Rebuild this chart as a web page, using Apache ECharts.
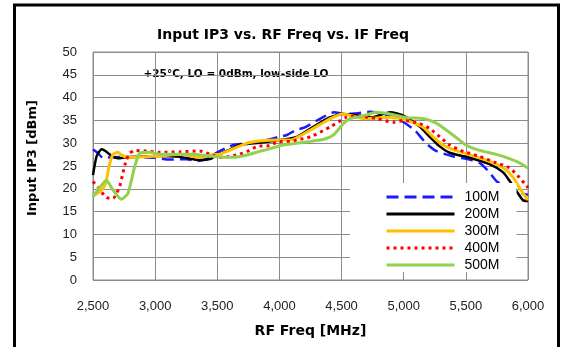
<!DOCTYPE html>
<html>
<head>
<meta charset="utf-8">
<script src="https://cdn.jsdelivr.net/npm/echarts@6/dist/echarts.min.js"></script>
<style>
  html, body { margin: 0; padding: 0; background: #fff; }
  #chart { width: 566px; height: 347px; }
</style>
</head>
<body>
<div id="chart"></div>
<script>
// Input IP3 [dBm] vs RF frequency [MHz], one curve per IF frequency
const freq100 = [2500, 2540, 2580, 2650, 2800, 3000, 3120, 3250, 3340, 3420, 3500, 3630, 3760, 3880, 4000, 4060, 4140, 4200, 4330, 4440, 4520, 4600, 4730, 4890, 5000, 5090, 5180, 5260, 5400, 5530, 5610, 5690, 5750, 5850, 5950, 6000];
const ip3_100  = [28.6, 27.8, 26.8, 26.9, 27.0, 26.8, 26.4, 26.5, 26.1, 26.6, 28.0, 29.6, 30.1, 30.6, 31.4, 31.8, 33.0, 33.4, 35.4, 36.8, 36.4, 36.5, 36.9, 36.0, 34.6, 32.8, 30.0, 28.3, 27.1, 26.4, 25.7, 23.6, 21.6, 20.0, 19.0, 18.7];

const freq200 = [2500, 2530, 2570, 2600, 2650, 2700, 2770, 3040, 3200, 3360, 3450, 3500, 3600, 3680, 3840, 4000, 4140, 4250, 4400, 4510, 4600, 4750, 4890, 5000, 5130, 5210, 5290, 5370, 5530, 5690, 5800, 5850, 5905, 5960, 6000];
const ip3_200  = [23.0, 27.2, 28.7, 28.3, 27.2, 26.7, 26.9, 27.2, 27.0, 26.3, 26.6, 27.5, 28.6, 29.6, 30.1, 30.7, 31.4, 33.2, 35.6, 36.4, 36.2, 35.7, 36.8, 36.0, 33.6, 31.4, 29.3, 27.9, 26.8, 25.4, 23.6, 21.8, 19.6, 17.5, 17.3];

const freq300 = [2500, 2560, 2600, 2630, 2660, 2700, 2730, 2770, 3040, 3200, 3360, 3470, 3520, 3740, 3840, 4000, 4085, 4250, 4410, 4510, 4680, 4890, 5000, 5150, 5235, 5316, 5396, 5530, 5690, 5800, 5880, 5945, 6000];
const ip3_300  = [18.5, 19.5, 21.0, 25.0, 27.5, 28.0, 27.4, 26.9, 27.2, 27.6, 26.9, 27.5, 27.6, 30.0, 30.5, 30.7, 30.7, 32.9, 35.4, 36.4, 35.4, 35.7, 35.2, 33.6, 31.4, 29.6, 28.6, 27.5, 26.0, 24.6, 22.5, 19.6, 17.5];

const freq400 = [2500, 2550, 2607, 2661, 2714, 2741, 2768, 2795, 2835, 2930, 3040, 3200, 3360, 3440, 3500, 3550, 3680, 3740, 3840, 3900, 4005, 4085, 4140, 4250, 4410, 4540, 4620, 4780, 4920, 5000, 5130, 5210, 5290, 5370, 5480, 5610, 5744, 5850, 5930, 5986, 6000];
const ip3_400  = [21.6, 20.0, 18.1, 17.9, 20.5, 23.5, 26.3, 27.8, 28.4, 28.3, 28.0, 28.1, 28.3, 27.6, 27.0, 26.9, 27.6, 28.2, 29.4, 29.4, 30.4, 30.4, 30.7, 31.4, 33.6, 35.7, 36.0, 35.4, 34.6, 35.0, 34.3, 33.2, 31.4, 29.6, 28.2, 27.1, 25.7, 24.6, 22.5, 20.7, 20.2];

const freq500 = [2500, 2560, 2607, 2661, 2728, 2781, 2835, 2876, 2950, 3040, 3300, 3470, 3630, 3740, 3840, 3900, 4030, 4085, 4250, 4350, 4434, 4514, 4568, 4650, 4780, 4890, 5020, 5155, 5262, 5396, 5500, 5590, 5750, 5800, 5932, 6000];
const ip3_500  = [18.3, 20.5, 21.9, 19.7, 17.7, 19.0, 24.8, 27.8, 28.0, 27.6, 27.6, 27.1, 26.9, 27.4, 28.2, 28.6, 29.6, 29.8, 30.4, 30.8, 31.8, 34.3, 35.4, 35.8, 36.8, 36.4, 35.6, 35.4, 34.4, 31.8, 29.6, 28.6, 27.5, 27.1, 25.7, 24.5];

const seriesNames = ['100M', '200M', '300M', '400M', '500M'];

const chart = echarts.init(document.getElementById('chart'));

function pairs(xs, ys) {
  return xs.map((x, i) => [x, ys[i]]);
}

const gridColor = '#8c8c8c';
const tickFont = 'Liberation Sans';
const boldFont = 'DejaVu Sans';

const option = {
  animation: false,
  backgroundColor: '#fff',
  title: {
    text: 'Input IP3 vs. RF Freq vs. IF Freq',
    left: 'center',
    top: 23,
    textStyle: { fontFamily: boldFont, fontWeight: 'bold', fontSize: 14, color: '#000' }
  },
  grid: {
    left: 93, right: 38, top: 52, bottom: 67,
    show: true, borderColor: gridColor, borderWidth: 1
  },
  legend: {
    orient: 'vertical',
    left: 350, top: 183,
    padding: [7, 17, 0, 35],
    backgroundColor: '#fff',
    itemWidth: 68, itemHeight: 14, itemGap: 3,
    data: seriesNames,
    // hide the marker dot, keep only the line sample
    itemStyle: { opacity: 0 },
    lineStyle: { width: 3 },
    textStyle: { fontFamily: tickFont, fontSize: 14, color: '#000', lineHeight: 14, padding: [0, 0, 0, 5] }
  },
  xAxis: {
    type: 'value',
    min: 2500, max: 6000, interval: 500,
    name: 'RF Freq [MHz]',
    nameLocation: 'middle',
    nameGap: 44,
    nameTextStyle: { fontFamily: boldFont, fontWeight: 'bold', fontSize: 14, color: '#000' },
    axisLine: { show: false },
    axisTick: { show: false },
    axisLabel: {
      margin: 20, fontFamily: tickFont, fontSize: 13, color: '#222',
      formatter: v => v.toLocaleString('en-US')
    },
    splitLine: { lineStyle: { color: gridColor, width: 1 } }
  },
  yAxis: {
    type: 'value',
    min: 0, max: 50, interval: 5,
    axisLine: { show: false },
    axisTick: { show: false },
    axisLabel: { margin: 16, fontFamily: tickFont, fontSize: 13, color: '#222' },
    splitLine: { lineStyle: { color: gridColor, width: 1 } }
  },
  graphic: [
    {
      type: 'text',
      rotation: Math.PI / 2,
      x: 33, y: 158,
      style: {
        text: 'Input IP3 [dBm]',
        fontFamily: boldFont, fontWeight: 'bold', fontSize: 13, fill: '#000',
        align: 'center', verticalAlign: 'middle'
      }
    },
    {
      type: 'group',
      z: 100,
      children: [
        { type: 'rect', shape: { x: 96, y: 60, width: 272, height: 27 }, style: { fill: '#fff' } },
        {
          type: 'text', x: 236, y: 74,
          style: {
            text: '+25°C, LO = 0dBm, low-side LO',
            fontFamily: boldFont, fontWeight: 'bold', fontSize: 10.5, fill: '#000',
            align: 'center', verticalAlign: 'middle'
          }
        }
      ]
    },
    {
      type: 'rect', z: 100,
      shape: { x: 14.5, y: 5, width: 544, height: 350 },
      style: { fill: 'none', stroke: '#000', lineWidth: 3 }
    }
  ],
  series: [
    { name: '100M', type: 'line', data: pairs(freq100, ip3_100), symbol: 'none', smooth: 0.2,
      lineStyle: { color: '#1a1aff', width: 2.5, type: [12, 6] }, itemStyle: { color: '#1a1aff' } },
    { name: '200M', type: 'line', data: pairs(freq200, ip3_200), symbol: 'none', smooth: 0.2,
      lineStyle: { color: '#000000', width: 2.5 }, itemStyle: { color: '#000000' } },
    { name: '300M', type: 'line', data: pairs(freq300, ip3_300), symbol: 'none', smooth: 0.2,
      lineStyle: { color: '#ffc000', width: 3 }, itemStyle: { color: '#ffc000' } },
    { name: '400M', type: 'line', data: pairs(freq400, ip3_400), symbol: 'none', smooth: 0.2,
      lineStyle: { color: '#ff0000', width: 3, type: [3, 4] }, itemStyle: { color: '#ff0000' } },
    { name: '500M', type: 'line', data: pairs(freq500, ip3_500), symbol: 'none', smooth: 0.2,
      lineStyle: { color: '#92d050', width: 3 }, itemStyle: { color: '#92d050' } }
  ]
};

chart.setOption(option);
</script>
</body>
</html>
